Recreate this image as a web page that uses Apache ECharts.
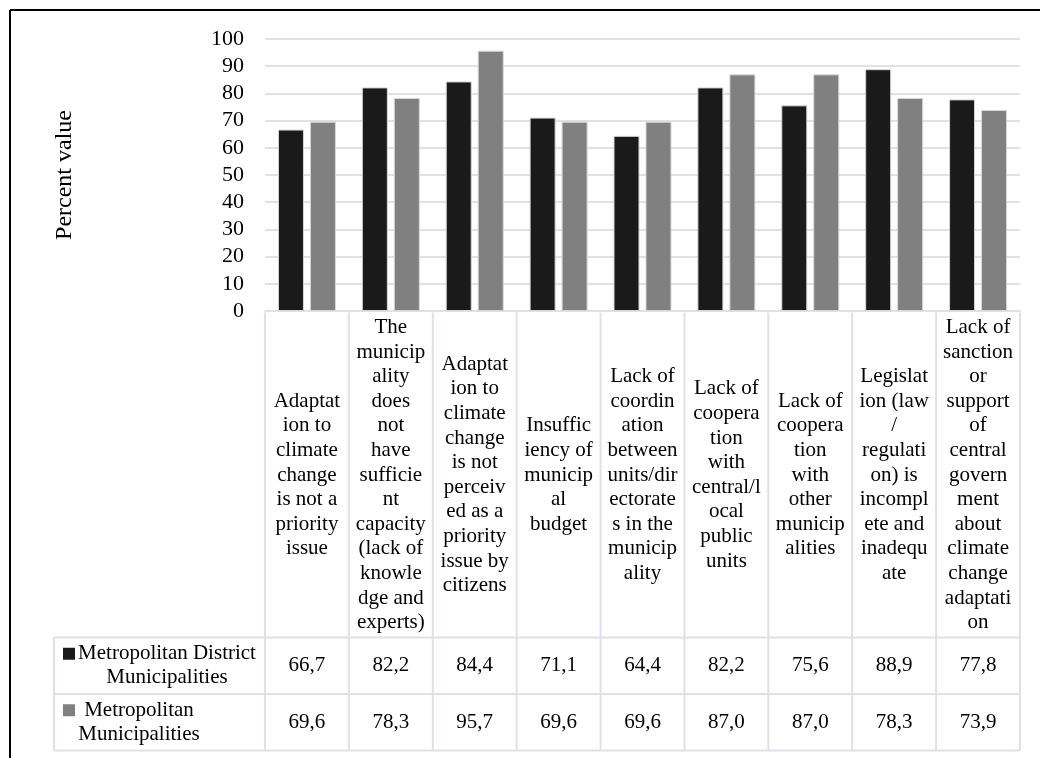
<!DOCTYPE html>
<html>
<head>
<meta charset="utf-8">
<script src="https://cdn.jsdelivr.net/npm/echarts@6/dist/echarts.min.js"></script>
<style>
  html, body { margin: 0; padding: 0; background: #fff; }
  #chart { width: 1040px; height: 758px; }
</style>
</head>
<body>
<div id="chart"></div>
<script>
// Category headings, wrapped the way they appear in the table header
const categories = [
  'Adaptat\nion to\nclimate\nchange\nis not a\npriority\nissue',
  'The\nmunicip\nality\ndoes\nnot\nhave\nsufficie\nnt\ncapacity\n(lack of\nknowle\ndge and\nexperts)',
  'Adaptat\nion to\nclimate\nchange\nis not\nperceiv\ned as a\npriority\nissue by\ncitizens',
  'Insuffic\niency of\nmunicip\nal\nbudget',
  'Lack of\ncoordin\nation\nbetween\nunits/dir\nectorate\ns in the\nmunicip\nality',
  'Lack of\ncoopera\ntion\nwith\ncentral/l\nocal\npublic\nunits',
  'Lack of\ncoopera\ntion\nwith\nother\nmunicip\nalities',
  'Legislat\nion (law\n/\nregulati\non) is\nincompl\nete and\ninadequ\nate',
  'Lack of\nsanction\nor\nsupport\nof\ncentral\ngovern\nment\nabout\nclimate\nchange\nadaptati\non'
];

const seriesNames = ['Metropolitan District Municipalities', 'Metropolitan Municipalities'];
const seriesLabels = ['Metropolitan District\nMunicipalities', 'Metropolitan\nMunicipalities'];

const districtValues = [66.7, 82.2, 84.4, 71.1, 64.4, 82.2, 75.6, 88.9, 77.8];
const metroValues = [69.6, 78.3, 95.7, 69.6, 69.6, 87.0, 87.0, 78.3, 73.9];

const yTicks = [0, 10, 20, 30, 40, 50, 60, 70, 80, 90, 100];

const FONT = "'Liberation Serif', 'Times New Roman', serif";
const COLORS = ['#1a1a1a', '#808080'];
const LINE = '#dde1e9';

const chart = echarts.init(document.getElementById('chart'), null, { renderer: 'canvas' });

const option = {
  animation: false,
  backgroundColor: '#fff',
  grid: { left: 265, right: 20, top: 39, bottom: 447, containLabel: false },
  xAxis: {
    type: 'category',
    data: categories,
    axisTick: { show: false },
    axisLine: { show: true, lineStyle: { color: LINE, width: 2 } },
    axisLabel: {
      interval: 0,
      margin: 164,
      verticalAlign: 'middle',
      align: 'center',
      fontFamily: FONT,
      fontSize: 21,
      lineHeight: 24.6,
      color: '#000',
      hideOverlap: false
    }
  },
  yAxis: {
    type: 'value',
    min: yTicks[0],
    max: yTicks[yTicks.length - 1],
    interval: 10,
    name: 'Percent value',
    nameLocation: 'middle',
    nameRotate: 90,
    nameGap: 188,
    nameTextStyle: { fontFamily: FONT, fontSize: 24, color: '#000' },
    axisLine: { show: false },
    axisTick: { show: false },
    splitLine: { show: true, lineStyle: { color: LINE, width: 2 } },
    axisLabel: { margin: 21, fontFamily: FONT, fontSize: 22, color: '#000' }
  },
  series: [
    {
      name: seriesNames[0], type: 'bar', data: districtValues,
      barWidth: 26, barGap: '23%',
      itemStyle: { color: COLORS[0], borderColor: '#d6d6d6', borderWidth: 1 }
    },
    {
      name: seriesNames[1], type: 'bar', data: metroValues,
      barWidth: 26, barGap: '23%',
      itemStyle: { color: COLORS[1], borderColor: '#d6d6d6', borderWidth: 1 }
    }
  ]
};

chart.setOption(option);

// Data table under the plot, aligned with the category bands of the x axis
function buildTable() {
  const n = categories.length;
  const c0 = chart.convertToPixel({ xAxisIndex: 0 }, 0);
  const c1 = chart.convertToPixel({ xAxisIndex: 0 }, 1);
  const band = c1 - c0;
  const left = c0 - band / 2;
  const right = left + band * n;
  const top = chart.convertToPixel({ yAxisIndex: 0 }, 0) + 1.5;
  const headerBottom = top + 325;
  const rowH = 56.5;
  const legendLeft = 54;
  const rows = [districtValues, metroValues];
  const els = [];
  const lineStyle = { stroke: LINE, lineWidth: 2 };

  // vertical borders of the columns
  for (let i = 0; i <= n; i++) {
    const x = left + band * i;
    els.push({ type: 'line', shape: { x1: x, y1: top, x2: x, y2: headerBottom + rowH * rows.length }, style: lineStyle, silent: true });
  }
  // left border of the legend column
  els.push({ type: 'line', shape: { x1: legendLeft, y1: headerBottom, x2: legendLeft, y2: headerBottom + rowH * rows.length }, style: lineStyle, silent: true });
  // horizontal borders
  for (let r = 0; r <= rows.length; r++) {
    const y = headerBottom + rowH * r;
    els.push({ type: 'line', shape: { x1: legendLeft, y1: y, x2: right, y2: y }, style: lineStyle, silent: true });
  }

  // value cells
  rows.forEach((vals, r) => {
    const cy = headerBottom + rowH * r + rowH / 2;
    vals.forEach((v, i) => {
      els.push({
        type: 'text', silent: true,
        x: left + band * i + band / 2, y: cy,
        style: { text: v.toFixed(1).replace('.', ','), font: '21px ' + FONT, fill: '#000', align: 'center', verticalAlign: 'middle' }
      });
    });
  });

  // legend cells: colour key and series name
  const keyX = [63, 63];
  const textX = [167, 139];
  rows.forEach((vals, r) => {
    const cy = headerBottom + rowH * r + rowH / 2;
    els.push({
      type: 'rect', silent: true,
      shape: { x: keyX[r], y: cy - 12 - 6, width: 12, height: 12 },
      style: { fill: COLORS[r] }
    });
    els.push({
      type: 'text', silent: true,
      x: textX[r], y: cy,
      style: { text: seriesLabels[r], font: '21px ' + FONT, fill: '#000', align: 'center', verticalAlign: 'middle', lineHeight: 24 }
    });
  });

  // outer frame
  els.push({ type: 'line', shape: { x1: 10, y1: 10, x2: 1040, y2: 10 }, style: { stroke: '#000', lineWidth: 2 }, silent: true });
  els.push({ type: 'line', shape: { x1: 10, y1: 10, x2: 10, y2: 758 }, style: { stroke: '#000', lineWidth: 2 }, silent: true });

  chart.setOption({ graphic: { elements: els } });
}

buildTable();
</script>
</body>
</html>
